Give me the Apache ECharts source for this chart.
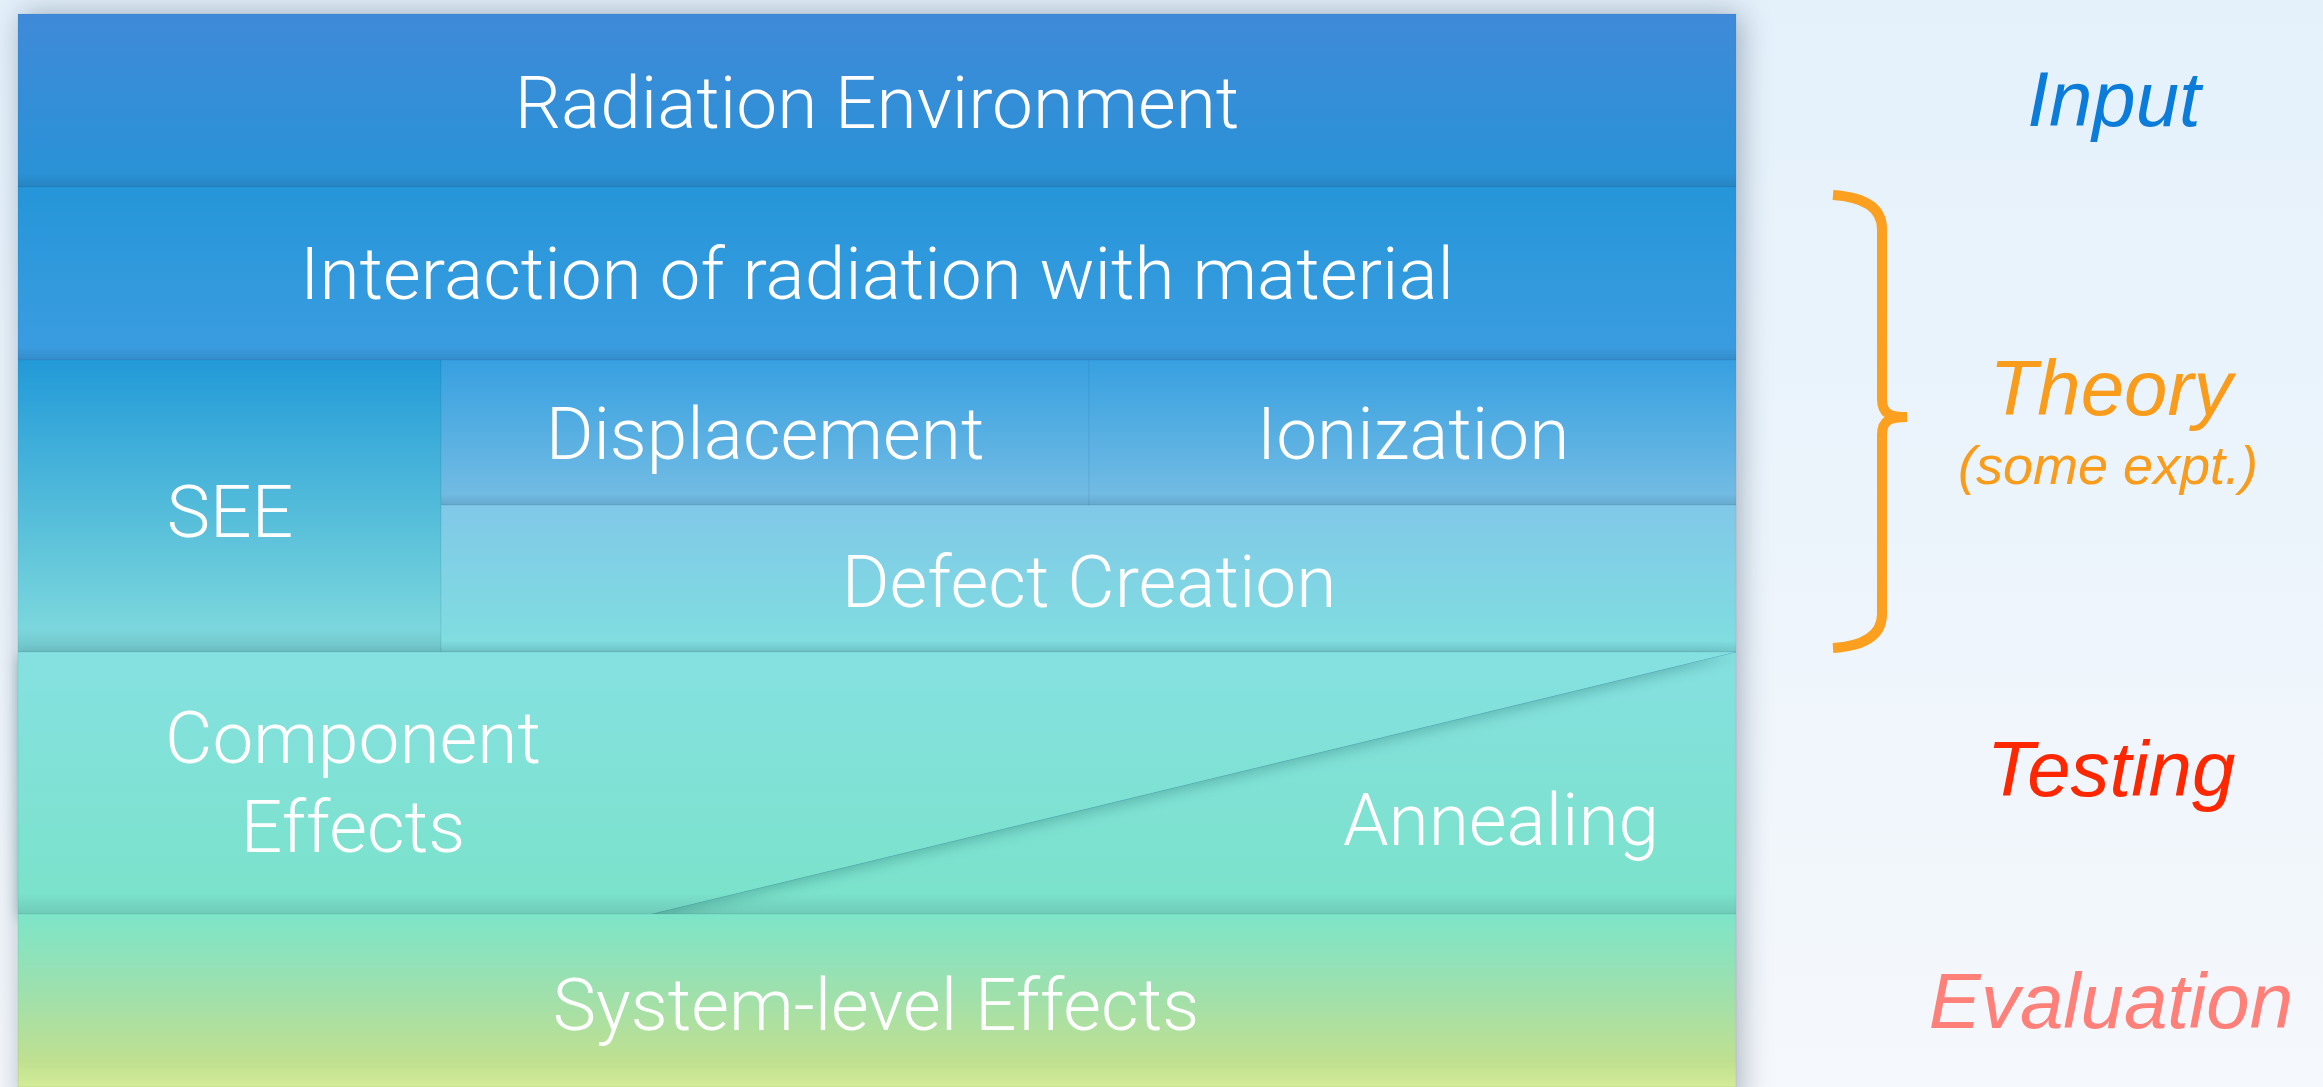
<!DOCTYPE html>
<html>
<head>
<meta charset="utf-8">
<script src="https://cdn.jsdelivr.net/npm/echarts@6/dist/echarts.min.js"></script>
<style>
  html, body { margin: 0; padding: 0; }
  #chart { width: 2323px; height: 1087px; }
</style>
</head>
<body>
<div id="chart"></div>
<script>
// layer diagram, units = layout units of the block (x: 0..2305, y: 0..1073 top-down)
const cellNames = [
  "Radiation Environment",
  "Interaction of radiation with material",
  "SEE",
  "Displacement",
  "Ionization",
  "Defect Creation",
  "Annealing",
  "Component\nEffects",
  "System-level Effects"
];
// cell outlines (diagram units)
const cellPolys = [
  [[0, 0], [1718, 0], [1718, 173], [0, 173]],
  [[0, 173], [1718, 173], [1718, 346], [0, 346]],
  [[0, 346], [423, 346], [423, 638], [0, 638]],
  [[423, 346], [1071, 346], [1071, 491], [423, 491]],
  [[1071, 346], [1718, 346], [1718, 491], [1071, 491]],
  [[423, 491], [1718, 491], [1718, 638], [423, 638]],
  [[634, 900], [1718, 638], [1718, 900]],
  [[0, 638], [1718, 638], [634, 900], [0, 900]],
  [[0, 900], [1718, 900], [1718, 1073], [0, 1073]]
];
// label anchor (diagram units)
const cellLabelAt = [
  [859, 96], [859, 267], [212, 505], [747, 427], [1395, 427],
  [1071, 575], [1483, 813], [335, 775], [858, 998]
];

const sideNames = ["Input", "Theory", "(some expt.)", "Testing", "Evaluation"];
const sideLabelAt = [[2096, 90], [2093, 379], [2090, 455], [2093, 760], [2093, 992]];

// brace spans the "Theory" rows
const braceTop = [1815, 181];
const braceTip = [1889, 403];
const braceBottom = [1815, 634];
const braceStem = 1864;

// styles
const cellTop = ["#3f8ad9", "#2596d9", "#229ad8", "#37a0e1", "#37a0e1", "#80c8e8", "#85e0e0", "#85e1e1", "#7de5c9"];
const cellBottom = ["#2a92d6", "#3a9ce0", "#7bd7dc", "#71bbe3", "#71bbe3", "#80dde0", "#7be2cb", "#7be2cb", "#d3ec98"];
const sideColors = ["#0b7cd9", "#fa9c1b", "#fa9c1b", "#ff2700", "#ff7f79"];
const sideFonts = ["italic 78px 'Liberation Sans'", "italic 78px 'Liberation Sans'", "italic 54px 'Liberation Sans'",
  "italic 78px 'Liberation Sans'", "italic 78px 'Liberation Sans'"];

function shade(hex, f) {
  let n = parseInt(hex.slice(1), 16);
  let r = Math.round(((n >> 16) & 255) * f), g = Math.round(((n >> 8) & 255) * f), b = Math.round((n & 255) * f);
  return "rgb(" + r + "," + g + "," + b + ")";
}

function cellFill(i) {
  let stops = [{ offset: 0, color: cellTop[i] }];
  if (i === 8) {
    stops.push({ offset: 0.45, color: "#9ee0ad" });
    stops.push({ offset: 0.85, color: "#c0e090" });
    stops.push({ offset: 1, color: cellBottom[i] });
  } else {
    stops.push({ offset: 0.92, color: cellBottom[i] });
    stops.push({ offset: 1, color: shade(cellBottom[i], 0.9) });
  }
  return new echarts.graphic.LinearGradient(0, 0, 0, 1, stops);
}

const myChart = echarts.init(document.getElementById("chart"));

myChart.setOption({
  animation: false,
  backgroundColor: new echarts.graphic.LinearGradient(0, 0, 0, 1, [
    { offset: 0, color: "#e4f1fb" },
    { offset: 1, color: "#f5f8fc" }
  ]),
  grid: { left: 18, top: 14, right: 0, bottom: 0 },
  xAxis: { type: "value", min: 0, max: 2305, show: false },
  yAxis: { type: "value", min: 0, max: 1073, inverse: true, show: false },
  series: [
    {
      // block body with its drop shadow
      type: "custom",
      silent: true,
      data: [[0, 0, 1718, 1073]],
      renderItem: function (params, api) {
        let a = api.coord([api.value(0), api.value(1)]);
        let b = api.coord([api.value(2), api.value(3)]);
        return {
          type: "rect",
          shape: { x: a[0], y: a[1], width: b[0] - a[0], height: b[1] - a[1] + 20 },
          style: { fill: "#3a9be0", shadowBlur: 28, shadowColor: "rgba(20,40,70,0.35)", shadowOffsetX: 4 }
        };
      }
    },
    {
      type: "custom",
      silent: true,
      data: cellNames.map(function (n, i) { return [i]; }),
      renderItem: function (params, api) {
        let i = params.dataIndex;
        let pts = cellPolys[i].map(function (p) { return api.coord(p); });
        let at = api.coord(cellLabelAt[i]);
        let poly = {
          type: "polygon",
          shape: { points: pts },
          style: { fill: cellFill(i), stroke: "rgba(0,60,90,0.07)", lineWidth: 1 }
        };
        if (i === 7) {
          poly.style.shadowBlur = 14;
          poly.style.shadowColor = "rgba(0,70,70,0.28)";
          poly.style.shadowOffsetY = 4;
        }
        return {
          type: "group",
          children: [
            poly,
            {
              type: "text",
              x: at[0],
              y: at[1],
              style: {
                text: cellNames[i],
                fill: "#ffffff",
                font: "300 73px Roboto",
                align: "center",
                verticalAlign: "middle",
                lineHeight: 89,
                shadowColor: "rgba(0,30,60,0.6)",
                shadowBlur: 9,
                shadowOffsetX: 3,
                shadowOffsetY: 6
              }
            }
          ]
        };
      }
    },
    {
      // stage labels at the right
      type: "custom",
      silent: true,
      data: sideNames.map(function (n, i) { return [i]; }),
      renderItem: function (params, api) {
        let i = params.dataIndex;
        let at = api.coord(sideLabelAt[i]);
        return {
          type: "text",
          x: at[0],
          y: at[1],
          style: {
            text: sideNames[i],
            fill: sideColors[i],
            font: sideFonts[i],
            align: "center",
            verticalAlign: "middle"
          }
        };
      }
    },
    {
      type: "custom",
      silent: true,
      data: [[0]],
      renderItem: function (params, api) {
        let t = api.coord(braceTop), m = api.coord(braceTip), b = api.coord(braceBottom);
        let sx = api.coord([braceStem, 0])[0];
        let r = 34;
        let d = "M" + t[0] + "," + t[1] +
          " C" + (t[0] + 30) + "," + (t[1] + 2) + " " + sx + "," + (t[1] + 12) + " " + sx + "," + (t[1] + r) +
          " L" + sx + "," + (m[1] - 18) +
          " C" + sx + "," + (m[1] - 3) + " " + (sx + 8) + "," + m[1] + " " + m[0] + "," + m[1] +
          " M" + m[0] + "," + m[1] +
          " C" + (sx + 8) + "," + m[1] + " " + sx + "," + (m[1] + 3) + " " + sx + "," + (m[1] + 18) +
          " L" + sx + "," + (b[1] - r) +
          " C" + sx + "," + (b[1] - 12) + " " + (b[0] + 30) + "," + (b[1] - 2) + " " + b[0] + "," + b[1];
        return {
          type: "path",
          shape: { pathData: d },
          style: { fill: null, stroke: "#fd9f1f", lineWidth: 10 }
        };
      }
    }
  ]
});
window.onresize = function () {
  myChart.resize();
};
</script>
</body>
</html>
